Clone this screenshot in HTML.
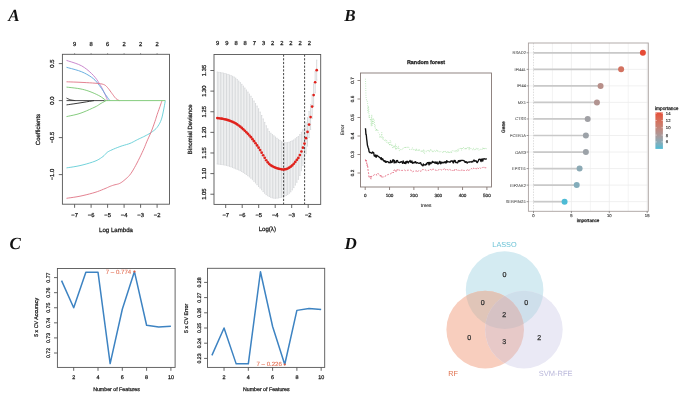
<!DOCTYPE html>
<html><head><meta charset="utf-8"><style>
html,body{margin:0;padding:0;background:#fff;}
svg{display:block;will-change:transform;filter:blur(0.4px);}
text{font-family:"Liberation Sans", sans-serif;text-rendering:geometricPrecision;}
.h{stroke:currentColor;stroke-width:0.26px;}
</style></head><body>
<svg width="685" height="415" viewBox="0 0 685 415">
<rect width="685" height="415" fill="#fff"/>
<text x="8.3" y="20.6" style="font-family:&quot;Liberation Serif&quot;,serif;font-weight:bold;font-style:italic" font-size="17" fill="#111">A</text>
<text x="344.2" y="20.6" style="font-family:&quot;Liberation Serif&quot;,serif;font-weight:bold;font-style:italic" font-size="17" fill="#111">B</text>
<text x="9.6" y="249.3" style="font-family:&quot;Liberation Serif&quot;,serif;font-weight:bold;font-style:italic" font-size="17" fill="#111">C</text>
<text x="344.4" y="248.8" style="font-family:&quot;Liberation Serif&quot;,serif;font-weight:bold;font-style:italic" font-size="17" fill="#111">D</text>
<polyline points="66.5,60.4 68.62,61.09 71.66,62.02 75.15,63.16 78.65,64.46 81.7,65.9 84.32,67.52 86.81,69.35 89.15,71.3 91.32,73.31 93.3,75.3 95.07,77.3 96.63,79.36 98.03,81.43 99.31,83.46 100.5,85.4 101.59,87.26 102.54,89.09 103.4,90.85 104.17,92.52 104.9,94.1 105.59,95.64 106.23,97.17 106.8,98.57 107.26,99.75 107.6,100.6" fill="none" stroke="#c47cc8" stroke-width="0.9" stroke-linejoin="round" />
<polyline points="66.5,67.3 68.62,67.88 71.66,68.67 75.15,69.62 78.65,70.68 81.7,71.8 84.32,72.99 86.81,74.28 89.15,75.65 91.32,77.1 93.3,78.6 95.06,80.19 96.6,81.88 97.99,83.62 99.27,85.35 100.5,87 101.65,88.6 102.69,90.17 103.66,91.71 104.58,93.2 105.5,94.6 106.47,96 107.48,97.4 108.42,98.71 109.23,99.81 109.8,100.6" fill="none" stroke="#5aa6dc" stroke-width="0.9" stroke-linejoin="round" />
<polyline points="66.5,81.8 68.31,81.86 70.86,81.94 73.84,82.05 76.99,82.17 80,82.3 83.01,82.45 86.21,82.62 89.4,82.8 92.4,82.99 95,83.2 97.17,83.39 99.04,83.57 100.67,83.77 102.1,84.03 103.4,84.4 104.49,84.85 105.33,85.36 106.04,85.96 106.72,86.66 107.5,87.5 108.38,88.53 109.3,89.73 110.22,91.03 111.13,92.31 112,93.5 112.84,94.63 113.67,95.75 114.47,96.83 115.25,97.79 116,98.6 116.76,99.23 117.53,99.72 118.25,100.09 118.86,100.38 119.3,100.6" fill="none" stroke="#e07484" stroke-width="0.9" stroke-linejoin="round" />
<polyline points="66.5,87.1 68.39,87.31 71.1,87.6 74.2,87.96 77.31,88.36 80,88.8 82.22,89.26 84.25,89.75 86.17,90.3 88.06,90.91 90,91.6 92.06,92.41 94.19,93.32 96.29,94.29 98.26,95.26 100,96.2 101.55,97.16 102.98,98.19 104.22,99.17 105.25,100 106,100.6" fill="none" stroke="#78c670" stroke-width="0.9" stroke-linejoin="round" />
<polyline points="66.5,98.1 67.03,98.35 67.78,98.7 68.66,99.1 69.59,99.49 70.5,99.8 71.47,100.03 72.56,100.22 73.62,100.38 74.55,100.51 75.2,100.6" fill="none" stroke="#222222" stroke-width="0.9" stroke-linejoin="round" />
<polyline points="66.5,104.9 68.33,104.63 70.9,104.26 73.92,103.82 77.05,103.35 80,102.9 82.99,102.42 86.24,101.89 89.38,101.37 92.09,100.92 94,100.6" fill="none" stroke="#222222" stroke-width="0.9" stroke-linejoin="round" />
<polyline points="66.5,116.6 68.31,116.22 70.86,115.7 73.84,115.06 76.99,114.3 80,113.4 83.06,112.27 86.37,110.91 89.65,109.47 92.62,108.11 95,107 96.62,106.19 97.67,105.57 98.41,105.07 99.1,104.57 100,104 101.23,103.29 102.62,102.51 103.98,101.73 105.17,101.07 106,100.6" fill="none" stroke="#78c670" stroke-width="0.9" stroke-linejoin="round" />
<polyline points="66.5,167.9 68.31,167.62 70.86,167.25 73.84,166.78 76.99,166.23 80,165.6 83.02,164.86 86.23,164.01 89.43,163.08 92.42,162.13 95,161.2 97.11,160.27 98.9,159.31 100.42,158.34 101.77,157.4 103,156.5 104.04,155.63 104.84,154.79 105.52,153.97 106.2,153.21 107,152.5 107.87,151.89 108.74,151.37 109.66,150.88 110.73,150.38 112,149.8 113.54,149.12 115.31,148.39 117.21,147.63 119.14,146.88 121,146.2 122.82,145.61 124.66,145.08 126.49,144.56 128.28,144.02 130,143.4 131.63,142.68 133.19,141.9 134.71,141.08 136.21,140.27 137.7,139.5 139.2,138.78 140.69,138.08 142.16,137.4 143.6,136.71 145,136 146.37,135.29 147.71,134.59 149.01,133.87 150.28,133.11 151.5,132.3 152.68,131.46 153.83,130.59 154.94,129.67 156,128.66 157,127.5 157.95,126.2 158.86,124.77 159.71,123.24 160.5,121.61 161.2,119.9 161.81,118.06 162.32,116.08 162.78,114.03 163.19,111.98 163.6,110 164.01,107.94 164.41,105.75 164.78,103.66 165.08,101.87 165.3,100.6" fill="none" stroke="#62cdd6" stroke-width="0.9" stroke-linejoin="round" />
<polyline points="66.5,198.3 68.31,198.04 70.86,197.69 73.84,197.26 76.99,196.76 80,196.2 82.98,195.55 86.13,194.8 89.29,194 92.3,193.19 95,192.4 97.4,191.61 99.6,190.8 101.6,190 103.4,189.26 105,188.6 106.34,188.04 107.41,187.57 108.31,187.15 109.14,186.76 110,186.4 110.84,186.07 111.59,185.79 112.33,185.54 113.11,185.28 114,185 115.04,184.73 116.18,184.48 117.37,184.21 118.56,183.86 119.7,183.4 120.78,182.81 121.83,182.13 122.87,181.37 123.92,180.52 125,179.6 126.1,178.65 127.22,177.66 128.36,176.58 129.52,175.31 130.7,173.8 131.92,171.99 133.18,169.93 134.46,167.7 135.74,165.36 137,163 138.28,160.52 139.6,157.88 140.9,155.21 142.12,152.64 143.2,150.3 144.1,148.27 144.86,146.45 145.54,144.75 146.23,143.03 147,141.2 147.87,139.22 148.8,137.18 149.74,135.1 150.65,133.03 151.5,131 152.28,128.98 153.03,126.95 153.74,124.95 154.4,123.05 155,121.3 155.51,119.76 155.94,118.39 156.34,117.1 156.74,115.8 157.2,114.4 157.73,112.85 158.32,111.22 158.91,109.56 159.48,107.97 160,106.5 160.48,105.1 160.95,103.71 161.38,102.44 161.74,101.37 162,100.6" fill="none" stroke="#e07484" stroke-width="0.9" stroke-linejoin="round" />
<line x1="66.5" y1="100.6" x2="104.5" y2="100.6" stroke="#333" stroke-width="0.9" />
<line x1="104.5" y1="100.6" x2="165.3" y2="100.6" stroke="#78c670" stroke-width="0.9" />
<rect x="62.4" y="54.3" width="107.1" height="149.9" fill="none" stroke="#555" stroke-width="0.9" />
<line x1="74.6" y1="204.2" x2="74.6" y2="207.8" stroke="#555" stroke-width="0.9" />
<text class="h" x="74.6" y="215.8" font-size="5.8" text-anchor="middle" dominant-baseline="central" fill="#222" color="#222" >−7</text>
<line x1="91.1" y1="204.2" x2="91.1" y2="207.8" stroke="#555" stroke-width="0.9" />
<text class="h" x="91.1" y="215.8" font-size="5.8" text-anchor="middle" dominant-baseline="central" fill="#222" color="#222" >−6</text>
<line x1="107.6" y1="204.2" x2="107.6" y2="207.8" stroke="#555" stroke-width="0.9" />
<text class="h" x="107.6" y="215.8" font-size="5.8" text-anchor="middle" dominant-baseline="central" fill="#222" color="#222" >−5</text>
<line x1="124.1" y1="204.2" x2="124.1" y2="207.8" stroke="#555" stroke-width="0.9" />
<text class="h" x="124.1" y="215.8" font-size="5.8" text-anchor="middle" dominant-baseline="central" fill="#222" color="#222" >−4</text>
<line x1="140.6" y1="204.2" x2="140.6" y2="207.8" stroke="#555" stroke-width="0.9" />
<text class="h" x="140.6" y="215.8" font-size="5.8" text-anchor="middle" dominant-baseline="central" fill="#222" color="#222" >−3</text>
<line x1="157.1" y1="204.2" x2="157.1" y2="207.8" stroke="#555" stroke-width="0.9" />
<text class="h" x="157.1" y="215.8" font-size="5.8" text-anchor="middle" dominant-baseline="central" fill="#222" color="#222" >−2</text>
<line x1="58.8" y1="174.6" x2="62.4" y2="174.6" stroke="#555" stroke-width="0.9" />
<text class="h" x="53" y="174.6" font-size="5.8" text-anchor="middle" dominant-baseline="central" fill="#222" color="#222" transform="rotate(-90 53 174.6)" >−1.0</text>
<line x1="58.8" y1="137.6" x2="62.4" y2="137.6" stroke="#555" stroke-width="0.9" />
<text class="h" x="53" y="137.6" font-size="5.8" text-anchor="middle" dominant-baseline="central" fill="#222" color="#222" transform="rotate(-90 53 137.6)" >−0.5</text>
<line x1="58.8" y1="100.6" x2="62.4" y2="100.6" stroke="#555" stroke-width="0.9" />
<text class="h" x="53" y="100.6" font-size="5.8" text-anchor="middle" dominant-baseline="central" fill="#222" color="#222" transform="rotate(-90 53 100.6)" >0.0</text>
<line x1="58.8" y1="63.6" x2="62.4" y2="63.6" stroke="#555" stroke-width="0.9" />
<text class="h" x="53" y="63.6" font-size="5.8" text-anchor="middle" dominant-baseline="central" fill="#222" color="#222" transform="rotate(-90 53 63.6)" >0.5</text>
<line x1="74.6" y1="53.1" x2="74.6" y2="54.3" stroke="#555" stroke-width="0.6" />
<text class="h" x="74.6" y="44.6" font-size="5.8" text-anchor="middle" dominant-baseline="central" fill="#222" color="#222" >9</text>
<line x1="91.1" y1="53.1" x2="91.1" y2="54.3" stroke="#555" stroke-width="0.6" />
<text class="h" x="91.1" y="44.6" font-size="5.8" text-anchor="middle" dominant-baseline="central" fill="#222" color="#222" >8</text>
<line x1="107.6" y1="53.1" x2="107.6" y2="54.3" stroke="#555" stroke-width="0.6" />
<text class="h" x="107.6" y="44.6" font-size="5.8" text-anchor="middle" dominant-baseline="central" fill="#222" color="#222" >6</text>
<line x1="124.1" y1="53.1" x2="124.1" y2="54.3" stroke="#555" stroke-width="0.6" />
<text class="h" x="124.1" y="44.6" font-size="5.8" text-anchor="middle" dominant-baseline="central" fill="#222" color="#222" >2</text>
<line x1="140.6" y1="53.1" x2="140.6" y2="54.3" stroke="#555" stroke-width="0.6" />
<text class="h" x="140.6" y="44.6" font-size="5.8" text-anchor="middle" dominant-baseline="central" fill="#222" color="#222" >2</text>
<line x1="157.1" y1="53.1" x2="157.1" y2="54.3" stroke="#555" stroke-width="0.6" />
<text class="h" x="157.1" y="44.6" font-size="5.8" text-anchor="middle" dominant-baseline="central" fill="#222" color="#222" >2</text>
<text class="h" x="39.4" y="129.5" font-size="6.0" text-anchor="middle" dominant-baseline="central" fill="#222" color="#222" transform="rotate(-90 39.4 129.5)" >Coefficients</text>
<text class="h" x="116" y="230.4" font-size="6.1" text-anchor="middle" dominant-baseline="central" fill="#222" color="#222" >Log Lambda</text>
<path d="M217.31 72.06V164.04M216.72 72.06h1.2M216.72 164.04h1.2M218.84 72.31V164.21M218.24 72.31h1.2M218.24 164.21h1.2M220.37 72.57V164.38M219.77 72.57h1.2M219.77 164.38h1.2M221.9 72.85V164.57M221.3 72.85h1.2M221.3 164.57h1.2M223.43 73.16V164.8M222.83 73.16h1.2M222.83 164.8h1.2M224.96 73.52V165.08M224.36 73.52h1.2M224.36 165.08h1.2M226.49 73.96V165.43M225.89 73.96h1.2M225.89 165.43h1.2M228.02 74.46V165.85M227.42 74.46h1.2M227.42 165.85h1.2M229.55 75.02V166.32M228.95 75.02h1.2M228.95 166.32h1.2M231.08 75.63V166.85M230.48 75.63h1.2M230.48 166.85h1.2M232.6 76.32V167.45M232 76.32h1.2M232 167.45h1.2M234.13 77.09V168.14M233.53 77.09h1.2M233.53 168.14h1.2M235.66 78.15V168.77M235.06 78.15h1.2M235.06 168.77h1.2M237.19 79.54V169.29M236.59 79.54h1.2M236.59 169.29h1.2M238.72 81.06V169.93M238.12 81.06h1.2M238.12 169.93h1.2M240.25 82.67V170.67M239.65 82.67h1.2M239.65 170.67h1.2M241.78 84.37V171.49M241.18 84.37h1.2M241.18 171.49h1.2M243.31 86.15V172.41M242.71 86.15h1.2M242.71 172.41h1.2M244.84 88.05V173.43M244.24 88.05h1.2M244.24 173.43h1.2M246.37 90.03V174.53M245.77 90.03h1.2M245.77 174.53h1.2M247.89 92.06V175.69M247.29 92.06h1.2M247.29 175.69h1.2M249.42 94.12V176.88M248.82 94.12h1.2M248.82 176.88h1.2M250.95 96.25V178.18M250.35 96.25h1.2M250.35 178.18h1.2M252.48 98.59V179.7M251.88 98.59h1.2M251.88 179.7h1.2M254.01 101.03V181.32M253.41 101.03h1.2M253.41 181.32h1.2M255.54 103.49V182.97M254.94 103.49h1.2M254.94 182.97h1.2M257.07 106.05V184.71M256.47 106.05h1.2M256.47 184.71h1.2M258.6 108.82V186.5M258 108.82h1.2M258 186.5h1.2M260.13 112.1V188.1M259.53 112.1h1.2M259.53 188.1h1.2M261.66 115.47V189.8M261.06 115.47h1.2M261.06 189.8h1.2M263.19 118.93V191.6M262.58 118.93h1.2M262.58 191.6h1.2M264.71 122.42V193.23M264.11 122.42h1.2M264.11 193.23h1.2M266.24 125.81V194.65M265.64 125.81h1.2M265.64 194.65h1.2M267.77 128.85V195.7M267.17 128.85h1.2M267.17 195.7h1.2M269.3 131.53V196.47M268.7 131.53h1.2M268.7 196.47h1.2M270.83 133.23V197.32M270.23 133.23h1.2M270.23 197.32h1.2M272.36 134.6V197.84M271.76 134.6h1.2M271.76 197.84h1.2M273.89 135.82V198.21M273.29 135.82h1.2M273.29 198.21h1.2M275.42 137.04V198.31M274.82 137.04h1.2M274.82 198.31h1.2M276.95 138.27V198.18M276.35 138.27h1.2M276.35 198.18h1.2M278.48 139.39V197.94M277.88 139.39h1.2M277.88 197.94h1.2M280 140.41V197.61M279.4 140.41h1.2M279.4 197.61h1.2M281.53 141.4V197.24M280.93 141.4h1.2M280.93 197.24h1.2M283.06 142.25V196.73M282.46 142.25h1.2M282.46 196.73h1.2M284.59 142.67V196.15M283.99 142.67h1.2M283.99 196.15h1.2M286.12 142.75V195.42M285.52 142.75h1.2M285.52 195.42h1.2M287.65 142.6V194.47M287.05 142.6h1.2M287.05 194.47h1.2M289.18 142.19V193.25M288.58 142.19h1.2M288.58 193.25h1.2M290.71 141.55V191.81M290.11 141.55h1.2M290.11 191.81h1.2M292.24 140.87V189.91M291.64 140.87h1.2M291.64 189.91h1.2M293.76 139.98V187.6M293.16 139.98h1.2M293.16 187.6h1.2M295.29 138.84V185.05M294.69 138.84h1.2M294.69 185.05h1.2M296.82 137.56V182.28M296.22 137.56h1.2M296.22 182.28h1.2M298.35 136.49V179.3M297.75 136.49h1.2M297.75 179.3h1.2M299.88 134.6V175.46M299.28 134.6h1.2M299.28 175.46h1.2M301.41 132.32V170.63M300.81 132.32h1.2M300.81 170.63h1.2M302.94 129.82V165.58M302.34 129.82h1.2M302.34 165.58h1.2M304.47 126.98V160.2M303.87 126.98h1.2M303.87 160.2h1.2M306 122.82V153.6M305.4 122.82h1.2M305.4 153.6h1.2M307.53 117.71V146.05M306.93 117.71h1.2M306.93 146.05h1.2M309.06 111.56V137.52M308.45 111.56h1.2M308.45 137.52h1.2M310.58 104.66V129.43M309.98 104.66h1.2M309.98 129.43h1.2M312.11 94.82V118.39M311.51 94.82h1.2M311.51 118.39h1.2M313.64 83.87V106.25M313.04 83.87h1.2M313.04 106.25h1.2M315.17 71.64V92.84M314.57 71.64h1.2M314.57 92.84h1.2M316.7 60.2V80.2M316.1 60.2h1.2M316.1 80.2h1.2" stroke="#d8dadc" stroke-width="1.0" fill="none"/>
<line x1="283.6" y1="54.5" x2="283.6" y2="204.4" stroke="#333" stroke-width="0.9" stroke-dasharray="2.2,1.5"/>
<line x1="304.6" y1="54.5" x2="304.6" y2="204.4" stroke="#333" stroke-width="0.9" stroke-dasharray="2.2,1.5"/>
<g fill="#e0221c"><circle cx="217.31" cy="118.05" r="1.35"/><circle cx="218.84" cy="118.26" r="1.35"/><circle cx="220.37" cy="118.48" r="1.35"/><circle cx="221.9" cy="118.71" r="1.35"/><circle cx="223.43" cy="118.98" r="1.35"/><circle cx="224.96" cy="119.3" r="1.35"/><circle cx="226.49" cy="119.7" r="1.35"/><circle cx="228.02" cy="120.16" r="1.35"/><circle cx="229.55" cy="120.67" r="1.35"/><circle cx="231.08" cy="121.24" r="1.35"/><circle cx="232.6" cy="121.88" r="1.35"/><circle cx="234.13" cy="122.62" r="1.35"/><circle cx="235.66" cy="123.46" r="1.35"/><circle cx="237.19" cy="124.42" r="1.35"/><circle cx="238.72" cy="125.5" r="1.35"/><circle cx="240.25" cy="126.67" r="1.35"/><circle cx="241.78" cy="127.93" r="1.35"/><circle cx="243.31" cy="129.28" r="1.35"/><circle cx="244.84" cy="130.74" r="1.35"/><circle cx="246.37" cy="132.28" r="1.35"/><circle cx="247.89" cy="133.87" r="1.35"/><circle cx="249.42" cy="135.5" r="1.35"/><circle cx="250.95" cy="137.21" r="1.35"/><circle cx="252.48" cy="139.15" r="1.35"/><circle cx="254.01" cy="141.17" r="1.35"/><circle cx="255.54" cy="143.23" r="1.35"/><circle cx="257.07" cy="145.38" r="1.35"/><circle cx="258.6" cy="147.66" r="1.35"/><circle cx="260.13" cy="150.1" r="1.35"/><circle cx="261.66" cy="152.64" r="1.35"/><circle cx="263.19" cy="155.26" r="1.35"/><circle cx="264.71" cy="157.82" r="1.35"/><circle cx="266.24" cy="160.23" r="1.35"/><circle cx="267.77" cy="162.28" r="1.35"/><circle cx="269.3" cy="164" r="1.35"/><circle cx="270.83" cy="165.28" r="1.35"/><circle cx="272.36" cy="166.22" r="1.35"/><circle cx="273.89" cy="167.01" r="1.35"/><circle cx="275.42" cy="167.68" r="1.35"/><circle cx="276.95" cy="168.23" r="1.35"/><circle cx="278.48" cy="168.66" r="1.35"/><circle cx="280" cy="169.01" r="1.35"/><circle cx="281.53" cy="169.32" r="1.35"/><circle cx="283.06" cy="169.49" r="1.35"/><circle cx="284.59" cy="169.41" r="1.35"/><circle cx="286.12" cy="169.09" r="1.35"/><circle cx="287.65" cy="168.53" r="1.35"/><circle cx="289.18" cy="167.72" r="1.35"/><circle cx="290.71" cy="166.68" r="1.35"/><circle cx="292.24" cy="165.39" r="1.35"/><circle cx="293.76" cy="163.79" r="1.35"/><circle cx="295.29" cy="161.94" r="1.35"/><circle cx="296.82" cy="159.92" r="1.35"/><circle cx="298.35" cy="157.89" r="1.35"/><circle cx="299.88" cy="155.03" r="1.35"/><circle cx="301.41" cy="151.48" r="1.35"/><circle cx="302.94" cy="147.7" r="1.35"/><circle cx="304.47" cy="143.59" r="1.35"/><circle cx="306" cy="138.21" r="1.35"/><circle cx="307.53" cy="131.88" r="1.35"/><circle cx="309.06" cy="124.54" r="1.35"/><circle cx="310.58" cy="117.04" r="1.35"/><circle cx="312.11" cy="106.61" r="1.35"/><circle cx="313.64" cy="95.06" r="1.35"/><circle cx="315.17" cy="82.24" r="1.35"/><circle cx="316.7" cy="70.2" r="1.35"/></g>
<rect x="214" y="54.5" width="106.7" height="149.9" fill="none" stroke="#555" stroke-width="0.9" />
<line x1="225.7" y1="204.4" x2="225.7" y2="208" stroke="#555" stroke-width="0.9" />
<text class="h" x="225.7" y="215.8" font-size="5.8" text-anchor="middle" dominant-baseline="central" fill="#222" color="#222" >−7</text>
<line x1="242.2" y1="204.4" x2="242.2" y2="208" stroke="#555" stroke-width="0.9" />
<text class="h" x="242.2" y="215.8" font-size="5.8" text-anchor="middle" dominant-baseline="central" fill="#222" color="#222" >−6</text>
<line x1="258.7" y1="204.4" x2="258.7" y2="208" stroke="#555" stroke-width="0.9" />
<text class="h" x="258.7" y="215.8" font-size="5.8" text-anchor="middle" dominant-baseline="central" fill="#222" color="#222" >−5</text>
<line x1="275.2" y1="204.4" x2="275.2" y2="208" stroke="#555" stroke-width="0.9" />
<text class="h" x="275.2" y="215.8" font-size="5.8" text-anchor="middle" dominant-baseline="central" fill="#222" color="#222" >−4</text>
<line x1="291.7" y1="204.4" x2="291.7" y2="208" stroke="#555" stroke-width="0.9" />
<text class="h" x="291.7" y="215.8" font-size="5.8" text-anchor="middle" dominant-baseline="central" fill="#222" color="#222" >−3</text>
<line x1="308.2" y1="204.4" x2="308.2" y2="208" stroke="#555" stroke-width="0.9" />
<text class="h" x="308.2" y="215.8" font-size="5.8" text-anchor="middle" dominant-baseline="central" fill="#222" color="#222" >−2</text>
<line x1="210.4" y1="194.22" x2="214" y2="194.22" stroke="#555" stroke-width="0.9" />
<text class="h" x="204.7" y="194.22" font-size="5.8" text-anchor="middle" dominant-baseline="central" fill="#222" color="#222" transform="rotate(-90 204.7 194.22)" >1.05</text>
<line x1="210.4" y1="173.6" x2="214" y2="173.6" stroke="#555" stroke-width="0.9" />
<text class="h" x="204.7" y="173.6" font-size="5.8" text-anchor="middle" dominant-baseline="central" fill="#222" color="#222" transform="rotate(-90 204.7 173.6)" >1.10</text>
<line x1="210.4" y1="152.98" x2="214" y2="152.98" stroke="#555" stroke-width="0.9" />
<text class="h" x="204.7" y="152.98" font-size="5.8" text-anchor="middle" dominant-baseline="central" fill="#222" color="#222" transform="rotate(-90 204.7 152.98)" >1.15</text>
<line x1="210.4" y1="132.36" x2="214" y2="132.36" stroke="#555" stroke-width="0.9" />
<text class="h" x="204.7" y="132.36" font-size="5.8" text-anchor="middle" dominant-baseline="central" fill="#222" color="#222" transform="rotate(-90 204.7 132.36)" >1.20</text>
<line x1="210.4" y1="111.74" x2="214" y2="111.74" stroke="#555" stroke-width="0.9" />
<text class="h" x="204.7" y="111.74" font-size="5.8" text-anchor="middle" dominant-baseline="central" fill="#222" color="#222" transform="rotate(-90 204.7 111.74)" >1.25</text>
<line x1="210.4" y1="91.12" x2="214" y2="91.12" stroke="#555" stroke-width="0.9" />
<text class="h" x="204.7" y="91.12" font-size="5.8" text-anchor="middle" dominant-baseline="central" fill="#222" color="#222" transform="rotate(-90 204.7 91.12)" >1.30</text>
<line x1="210.4" y1="70.5" x2="214" y2="70.5" stroke="#555" stroke-width="0.9" />
<text class="h" x="204.7" y="70.5" font-size="5.8" text-anchor="middle" dominant-baseline="central" fill="#222" color="#222" transform="rotate(-90 204.7 70.5)" >1.35</text>
<text class="h" x="217.7" y="44.4" font-size="5.8" text-anchor="middle" dominant-baseline="central" fill="#222" color="#222" >9</text>
<text class="h" x="226.86" y="44.4" font-size="5.8" text-anchor="middle" dominant-baseline="central" fill="#222" color="#222" >9</text>
<text class="h" x="236.02" y="44.4" font-size="5.8" text-anchor="middle" dominant-baseline="central" fill="#222" color="#222" >8</text>
<text class="h" x="245.18" y="44.4" font-size="5.8" text-anchor="middle" dominant-baseline="central" fill="#222" color="#222" >8</text>
<text class="h" x="254.34" y="44.4" font-size="5.8" text-anchor="middle" dominant-baseline="central" fill="#222" color="#222" >7</text>
<text class="h" x="263.5" y="44.4" font-size="5.8" text-anchor="middle" dominant-baseline="central" fill="#222" color="#222" >3</text>
<text class="h" x="272.66" y="44.4" font-size="5.8" text-anchor="middle" dominant-baseline="central" fill="#222" color="#222" >2</text>
<text class="h" x="281.82" y="44.4" font-size="5.8" text-anchor="middle" dominant-baseline="central" fill="#222" color="#222" >2</text>
<text class="h" x="290.98" y="44.4" font-size="5.8" text-anchor="middle" dominant-baseline="central" fill="#222" color="#222" >2</text>
<text class="h" x="300.14" y="44.4" font-size="5.8" text-anchor="middle" dominant-baseline="central" fill="#222" color="#222" >2</text>
<text class="h" x="309.3" y="44.4" font-size="5.8" text-anchor="middle" dominant-baseline="central" fill="#222" color="#222" >2</text>
<text class="h" x="191.2" y="129.3" font-size="6.0" text-anchor="middle" dominant-baseline="central" fill="#222" color="#222" transform="rotate(-90 191.2 129.3)" >Binomial Deviance</text>
<text class="h" x="267.3" y="229.4" font-size="6.1" text-anchor="middle" dominant-baseline="central" fill="#222" color="#222" >Log(λ)</text>
<polyline points="365.44,78.76 365.69,85.82 365.93,95.25 366.17,98.65 366.42,99.2 366.66,100.58 366.9,100.72 367.15,100.45 367.39,102.15 367.63,103.85 367.88,111.63 368.12,112.52 368.36,106.17 368.61,107.06 368.85,110.8 369.09,117.81 369.34,115.1 369.58,117.11 369.82,118 370.07,118.89 370.31,119.78 370.55,120.67 370.8,119.13 371.04,122.23 371.28,126.26 371.53,118.74 371.77,114.58 372.02,125.27 372.26,125.75 372.5,122.62 372.75,119.4 372.99,123.35 373.23,123.83 373.48,118.48 373.72,118.96 373.96,119.45 374.21,119.94 374.45,120.42 374.69,126.61 374.94,127.1 375.18,125.44 375.42,130.06 375.67,130.42 375.91,130.74 376.15,131.07 376.4,128.53 376.64,128.85 376.88,131.1 377.13,129.48 377.37,129.81 377.61,130.14 377.86,130.47 378.1,130.79 378.34,132.58 378.59,132.9 378.83,133.23 379.07,133.56 379.32,133.89 379.56,134.21 379.8,137.62 380.05,137.95 380.29,136.43 380.53,136.75 380.78,137.08 381.02,137.41 381.26,137.73 381.51,135.64 381.75,132.53 381.99,135.85 382.24,136.08 382.48,138.43 382.72,139.12 382.97,139.33 383.21,137.08 383.45,139.26 383.7,139.07 383.94,139.16 384.19,139.38 384.43,140.41 384.67,140.75 384.92,140.43 385.16,139.45 385.4,139.64 385.65,141.64 385.89,141.83 386.13,142.01 386.38,142.19 386.62,140.13 386.86,142.08 387.11,141.94 387.35,142.12 387.59,142.4 387.84,143.19 388.08,143.37 388.32,143.55 388.57,141.83 388.81,142.9 389.05,143.08 389.3,143.72 389.54,143.91 389.78,145.83 390.03,140.13 390.27,140.34 390.51,140.56 390.76,140.77 391,145.43 391.24,145.64 391.49,145.86 391.73,145.15 391.97,144.22 392.22,144.44 392.46,147.74 392.7,147.96 392.95,148.17 393.19,148.36 393.43,145.67 393.68,145.85 393.92,147.14 394.16,147.5 394.41,146.28 394.65,147.59 394.89,147.77 395.14,147.96 395.38,143.71 395.62,143.9 395.87,150.05 396.11,147.82 396.36,148.83 396.6,146.63 396.84,147.33 397.09,147.35 397.33,147.37 397.57,147.38 397.82,147.4 398.06,149.17 398.3,146.16 398.55,146.18 398.79,147.91 399.03,148.52 399.28,150.74 399.52,150.75 399.76,150.23 400.01,149.85 400.25,149.87 400.49,149 400.74,149.35 400.98,149.71 401.22,149.55 401.47,149.38 401.71,149.66 401.95,149.92 402.2,149.75 402.44,148.87 402.68,149.01 402.93,148.84 403.17,147.83 403.41,147.66 403.66,147.49 403.9,147.32 404.14,147.65 404.39,147.21 404.63,147.85 404.87,147.79 405.12,147.1 405.36,147.04 405.6,148.34 405.85,147.25 406.09,147.23 406.33,147.28 406.58,147.61 406.82,147.66 407.06,147.71 407.31,147.76 407.55,147.81 407.79,146.89 408.04,146.94 408.28,147.84 408.53,147.36 408.77,147.41 409.01,147.46 409.26,147.51 409.5,149.47 409.74,149.52 409.99,149.57 410.23,149.66 410.47,149.75 410.72,149.84 410.96,149.93 411.2,149.63 411.45,148.6 411.69,148.5 411.93,148.6 412.18,148.69 412.42,147.64 412.66,147.73 412.91,149.16 413.15,149.25 413.39,150.26 413.64,150.35 413.88,150.45 414.12,149.47 414.37,149.47 414.61,149.89 414.85,149.98 415.1,150.05 415.34,150.09 415.58,150.92 415.83,150.96 416.07,148.33 416.31,148.37 416.56,148.41 416.8,151.01 417.04,149.89 417.29,149.93 417.53,149.96 417.77,150 418.02,150.01 418.26,150.43 418.5,151.17 418.75,151.21 418.99,149.45 419.23,150.74 419.48,150.21 419.72,150.25 419.96,150.45 420.21,150.49 420.45,150.53 420.7,150.57 420.94,151.37 421.18,150.1 421.43,150.48 421.67,151.23 421.91,151.26 422.16,150.37 422.4,150.41 422.64,150.45 422.89,152.13 423.13,150.89 423.37,149.4 423.62,149.44 423.86,153.51 424.1,153.54 424.35,153.58 424.59,153.62 424.83,150.79 425.08,151.06 425.32,151.04 425.56,151.02 425.81,151 426.05,150.98 426.29,151.84 426.54,151.82 426.78,151.8 427.02,151.78 427.27,150.52 427.51,151.04 427.75,151.29 428,151.14 428.24,150.48 428.48,150.46 428.73,151.93 428.97,151.6 429.21,151.58 429.46,151.56 429.7,152.07 429.94,152.05 430.19,149.11 430.43,149.09 430.67,149.07 430.92,150.92 431.16,150.9 431.4,150.88 431.65,150.86 431.89,150.84 432.13,150.38 432.38,151.88 432.62,151.86 432.87,150.67 433.11,151.73 433.35,151.71 433.6,150.45 433.84,150.43 434.08,150.41 434.33,150.73 434.57,150.5 434.81,150.48 435.06,151.58 435.3,151.62 435.54,150.78 435.79,150.82 436.03,150.86 436.27,149.98 436.52,150.02 436.76,150.96 437,151.49 437.25,150.5 437.49,151.73 437.73,151.77 437.98,150.8 438.22,151.08 438.46,151.12 438.71,151.15 438.95,151.92 439.19,151.96 439.44,151.78 439.68,151.82 439.92,151.33 440.17,151.37 440.41,151.41 440.65,151.45 440.9,151.92 441.14,151.7 441.38,151.73 441.63,151.77 441.87,152.32 442.11,152.36 442.36,152.4 442.6,152.44 442.84,152.48 443.09,151.19 443.33,151.23 443.57,152.75 443.82,151.89 444.06,151.44 444.31,151.48 444.55,151.51 444.79,151.55 445.04,151.58 445.28,151.56 445.52,150.97 445.77,152.73 446.01,152.71 446.25,152.74 446.5,151.95 446.74,151.93 446.98,152.07 447.23,152.52 447.47,152.5 447.71,151.12 447.96,151.1 448.2,151.08 448.44,153.17 448.69,153.15 448.93,152.27 449.17,152.25 449.42,151.67 449.66,152.6 449.9,152.58 450.15,152.01 450.39,151.99 450.63,151.97 450.88,152.57 451.12,151.14 451.36,151.77 451.61,152.77 451.85,150.95 452.09,150.93 452.34,150.72 452.58,150.7 452.82,151.03 453.07,151.01 453.31,150.99 453.55,150.98 453.8,150.8 454.04,150.81 454.28,151.59 454.53,151.77 454.77,151.75 455.01,151.72 455.26,150.6 455.5,150.49 455.74,150.38 455.99,152.13 456.23,152.02 456.48,151.91 456.72,150.27 456.96,150.1 457.21,149.99 457.45,149.88 457.69,151.41 457.94,149.16 458.18,149.05 458.42,150.71 458.67,150.92 458.91,148.91 459.15,148.8 459.4,148.69 459.64,148.58 459.88,148.47 460.13,148.77 460.37,148.45 460.61,148.33 460.86,148.29 461.1,149.51 461.34,148.17 461.59,150.18 461.83,150.14 462.07,150.1 462.32,150.06 462.56,147.33 462.8,147.29 463.05,147.61 463.29,147.57 463.53,147.53 463.78,149.21 464.02,149.17 464.26,148.69 464.51,148.65 464.75,148.38 464.99,149.02 465.24,149.04 465.48,149.06 465.72,147.66 465.97,149.74 466.21,149.76 466.45,148.67 466.7,148.52 466.94,148.54 467.18,147.29 467.43,147.79 467.67,147.81 467.91,148.57 468.16,148.15 468.4,147.81 468.64,147.83 468.89,149.84 469.13,149.86 469.38,146.96 469.62,148.67 469.86,148.69 470.11,148.71 470.35,148.73 470.59,148.75 470.84,147.87 471.08,149.09 471.32,149.11 471.57,149.13 471.81,149.46 472.05,149.73 472.3,149.75 472.54,149.77 472.78,149.11 473.03,149.13 473.27,149.15 473.51,148.09 473.76,148.11 474,148.13 474.24,150.23 474.49,150.25 474.73,150.27 474.97,150.29 475.22,150.28 475.46,148.05 475.7,148.03 475.95,148.01 476.19,148 476.43,149.44 476.68,149.42 476.92,149.41 477.16,149.39 477.41,148.07 477.65,148.05 477.89,148.04 478.14,148.97 478.38,148.96 478.62,148.94 478.87,150.2 479.11,150.18 479.35,149.36 479.6,149.35 479.84,149.33 480.08,149.31 480.33,149.3 480.57,149.28 480.81,149.26 481.06,149.25 481.3,148.61 481.55,149.4 481.79,149.39 482.03,149.37 482.28,149.35 482.52,147.78 482.76,147.76 483.01,149.37 483.25,149.3 483.49,147.67 483.74,148.5 483.98,148.48 484.22,148.55 484.47,148.77 484.71,149.55 484.95,148.2 485.2,148.19 485.44,147.85 485.68,147.83 485.93,147.81 486.17,148.92 486.41,148.91 486.66,148.39 486.9,148.38" fill="none" stroke="#86d482" stroke-width="0.9" stroke-linejoin="round" stroke-dasharray="0.8,1.5" opacity="0.65"/>
<polyline points="365.44,159.47 365.69,161.02 365.93,162.03 366.17,161.6 366.42,160.39 366.66,162.13 366.9,165.1 367.15,165.86 367.39,164.46 367.63,165.78 367.88,168.42 368.12,170.46 368.36,171.58 368.61,173.5 368.85,176.01 369.09,177.45 369.34,177.11 369.58,177.29 369.82,177.54 370.07,177.16 370.31,176.02 370.55,176.8 370.8,178.55 371.04,179.11 371.28,177.74 371.53,176.38 371.77,176.21 372.02,176.12 372.26,176.15 372.5,176.18 372.75,176.13 372.99,176.08 373.23,176.03 373.48,175.74 373.72,175.28 373.96,174.83 374.21,174.61 374.45,174.56 374.69,174.51 374.94,174.46 375.18,174.69 375.42,174.68 375.67,174.67 375.91,174.66 376.15,174.6 376.4,174.53 376.64,175.1 376.88,175.32 377.13,175.04 377.37,174.12 377.61,173.6 377.86,173.59 378.1,173.64 378.34,173.75 378.59,173.86 378.83,173.97 379.07,174.29 379.32,174.61 379.56,174.93 379.8,175.34 380.05,175.75 380.29,176.17 380.53,175.41 380.78,174.65 381.02,175.09 381.26,176.39 381.51,177.7 381.75,177.81 381.99,177.51 382.24,177.2 382.48,176.89 382.72,177 382.97,177.11 383.21,177.04 383.45,176.95 383.7,176.85 383.94,176.8 384.19,176.76 384.43,176.71 384.67,176.66 384.92,176.61 385.16,176.56 385.4,176.13 385.65,175.7 385.89,175.27 386.13,175.22 386.38,175.17 386.62,175.12 386.86,175.08 387.11,174.98 387.35,174.83 387.59,174.68 387.84,174.53 388.08,174.38 388.32,174.42 388.57,174.47 388.81,174.52 389.05,174.38 389.3,174.25 389.54,174.11 389.78,174.05 390.03,173.99 390.27,173.93 390.51,173.78 390.76,173.63 391,173.46 391.24,173.3 391.49,173.14 391.73,172.98 391.97,172.83 392.22,172.71 392.46,172.6 392.7,172.36 392.95,172.12 393.19,173 393.43,172.46 393.68,171.91 393.92,170.25 394.16,170.13 394.41,170.01 394.65,169.9 394.89,169.78 395.14,169.66 395.38,169.55 395.62,170.37 395.87,171.2 396.11,172.02 396.36,171.91 396.6,171.79 396.84,170.85 397.09,169.95 397.33,169.12 397.57,169.12 397.82,169.12 398.06,169.13 398.3,169.47 398.55,169.81 398.79,170.14 399.03,170.14 399.28,170.14 399.52,170.14 399.76,170.14 400.01,170.44 400.25,170.44 400.49,170.44 400.74,170.44 400.98,170.44 401.22,170.44 401.47,170.44 401.71,170.44 401.95,170.44 402.2,170.49 402.44,170.45 402.68,170.4 402.93,170.29 403.17,170.26 403.41,170.16 403.66,170.06 403.9,169.95 404.14,169.93 404.39,169.91 404.63,169.89 404.87,170 405.12,170.35 405.36,170.7 405.6,170.91 405.85,170.89 406.09,170.87 406.33,170.64 406.58,170.61 406.82,170.58 407.06,170.61 407.31,170.44 407.55,170.26 407.79,170.24 408.04,170.22 408.28,170.2 408.53,170.18 408.77,170.16 409.01,170.13 409.26,170.11 409.5,170.09 409.74,170.07 409.99,170.15 410.23,170.06 410.47,170.14 410.72,170.12 410.96,170.37 411.2,170.52 411.45,170.67 411.69,170.82 411.93,170.89 412.18,171.14 412.42,171.52 412.66,171.89 412.91,171.82 413.15,171.61 413.39,171.41 413.64,171.27 413.88,171.13 414.12,170.99 414.37,171.06 414.61,171.12 414.85,171.19 415.1,171.21 415.34,171.14 415.58,171.07 415.83,171 416.07,170.72 416.31,170.9 416.56,171.08 416.8,171.13 417.04,170.72 417.29,170.78 417.53,171.2 417.77,171.62 418.02,171.23 418.26,170.98 418.5,170.73 418.75,170.86 418.99,170.85 419.23,170.84 419.48,170.77 419.72,170.7 419.96,170.64 420.21,170.87 420.45,171.11 420.7,171.35 420.94,171.34 421.18,170.64 421.43,170.17 421.67,169.79 421.91,170.1 422.16,169.96 422.4,169.74 422.64,169.52 422.89,169.53 423.13,169.55 423.37,169.56 423.62,169.56 423.86,169.71 424.1,169.87 424.35,170.03 424.59,170.02 424.83,170.02 425.08,170.01 425.32,170 425.56,170 425.81,170.21 426.05,170.42 426.29,170.64 426.54,170.59 426.78,170.51 427.02,170.43 427.27,170.4 427.51,170.39 427.75,170.38 428,170.38 428.24,170.37 428.48,170.36 428.73,170.52 428.97,170.14 429.21,169.76 429.46,169.32 429.7,169.41 429.94,169.5 430.19,169.49 430.43,169.49 430.67,169.48 430.92,169.47 431.16,169.84 431.4,170.2 431.65,170.57 431.89,170.24 432.13,169.81 432.38,169.37 432.62,169.26 432.87,169.26 433.11,169.25 433.35,169.24 433.6,169.23 433.84,169.23 434.08,169.22 434.33,169.52 434.57,169.81 434.81,170.11 435.06,170.1 435.3,170.09 435.54,170.08 435.79,170.07 436.03,170.05 436.27,170.24 436.52,170.42 436.76,170.6 437,170.59 437.25,170.57 437.49,170.56 437.73,170.55 437.98,170.54 438.22,170.21 438.46,169.89 438.71,169.57 438.95,169.55 439.19,169.54 439.44,169.61 439.68,169.75 439.92,169.7 440.17,169.62 440.41,169.48 440.65,169.51 440.9,169.5 441.14,169.63 441.38,169.85 441.63,170.07 441.87,169.86 442.11,169.57 442.36,169.28 442.6,169.27 442.84,169.3 443.09,169.35 443.33,169.64 443.57,169.41 443.82,169.16 444.06,168.66 444.31,168.55 444.55,169 444.79,169.44 445.04,169.98 445.28,170 445.52,170.02 445.77,169.63 446.01,169.23 446.25,168.84 446.5,168.86 446.74,169.25 446.98,169.36 447.23,169.55 447.47,169.49 447.71,169.74 447.96,169.91 448.2,169.97 448.44,170.11 448.69,169.84 448.93,169.62 449.17,169.28 449.42,169.34 449.66,169.36 449.9,169.38 450.15,169.4 450.39,169.79 450.63,170.19 450.88,170.61 451.12,170.65 451.36,170.69 451.61,170.71 451.85,170.73 452.09,170.75 452.34,170.49 452.58,170.24 452.82,169.98 453.07,170.3 453.31,170.63 453.55,170.95 453.8,170.97 454.04,170.99 454.28,171.01 454.53,170.36 454.77,169.71 455.01,169.06 455.26,169.08 455.5,169.1 455.74,169.61 455.99,169.79 456.23,169.96 456.48,169.66 456.72,169.76 456.96,169.86 457.21,170.24 457.45,170.54 457.69,170.46 457.94,170.09 458.18,169.86 458.42,170.01 458.67,170.15 458.91,170.4 459.15,170.64 459.4,170.89 459.64,170.6 459.88,170.31 460.13,170.15 460.37,170.31 460.61,170.46 460.86,170.48 461.1,170.35 461.34,170.22 461.59,170.09 461.83,170.11 462.07,170.13 462.32,170.15 462.56,170.17 462.8,170.64 463.05,170.96 463.29,170.94 463.53,170.55 463.78,170.32 464.02,170.42 464.26,170.44 464.51,170.46 464.75,170.48 464.99,170.5 465.24,170.56 465.48,170.62 465.72,170.68 465.97,170.63 466.21,170.57 466.45,170.51 466.7,170.45 466.94,170.1 467.18,169.76 467.43,169.63 467.67,170.17 467.91,170.72 468.16,170.79 468.4,170.47 468.64,170.15 468.89,170.09 469.13,170.03 469.38,169.97 469.62,170.01 469.86,169.82 470.11,169.64 470.35,169.36 470.59,169.38 470.84,169.14 471.08,168.91 471.32,168.61 471.57,168.55 471.81,168.88 472.05,169.21 472.3,169.19 472.54,168.77 472.78,168.36 473.03,168.3 473.27,168.24 473.51,168.18 473.76,168.12 474,168.56 474.24,168.86 474.49,169.16 474.73,168.89 474.97,168.79 475.22,168.71 475.46,168.63 475.7,168.52 475.95,168.57 476.19,168.72 476.43,168.86 476.68,168.42 476.92,167.97 477.16,167.53 477.41,167.5 477.65,167.85 477.89,168.2 478.14,168.55 478.38,168.52 478.62,168.49 478.87,168.46 479.11,168.16 479.35,167.86 479.6,167.56 479.84,167.53 480.08,167.79 480.33,168.06 480.57,168.32 480.81,168.29 481.06,168 481.3,167.72 481.55,167.43 481.79,167.4 482.03,167.37 482.28,167.34 482.52,167.47 482.76,167.69 483.01,167.66 483.25,167.48 483.49,167.2 483.74,166.92 483.98,166.64 484.22,166.83 484.47,167.27 484.71,167.72 484.95,167.73 485.2,167.74 485.44,167.75 485.68,167.72 485.93,167.69 486.17,167.66 486.41,167.85 486.66,168.03 486.9,167.81" fill="none" stroke="#DF536B" stroke-width="0.85" stroke-linejoin="round" stroke-dasharray="1.8,1.4"/>
<polyline points="365.44,128.25 365.69,130.76 365.93,134.49 366.17,134.22 366.42,136.28 366.66,139 366.9,140.67 367.15,142.83 367.39,144.99 367.63,145.87 367.88,146.7 368.12,147.54 368.36,148.25 368.61,148.58 368.85,150.14 369.09,151.7 369.34,152.03 369.58,152.36 369.82,152.69 370.07,152.64 370.31,152.44 370.55,152.57 370.8,152.7 371.04,152.83 371.28,152.96 371.53,153.07 371.77,153.17 372.02,153.3 372.26,152.65 372.5,151.99 372.75,152.12 372.99,152.25 373.23,152.45 373.48,152.64 373.72,152.84 373.96,154.37 374.21,155.9 374.45,156.01 374.69,156.13 374.94,156.33 375.18,155.69 375.42,155.11 375.67,155 375.91,156.4 376.15,157.34 376.4,156.49 376.64,155.65 376.88,155.3 377.13,155.32 377.37,155.86 377.61,156.05 377.86,156.24 378.1,156.33 378.34,156.43 378.59,156.62 378.83,156.81 379.07,157 379.32,157.19 379.56,157.37 379.8,157.56 380.05,157.72 380.29,157.81 380.53,158.45 380.78,159.09 381.02,158.55 381.26,157.6 381.51,158.39 381.75,159.58 381.99,159.7 382.24,159.22 382.48,158.74 382.72,158.85 382.97,159.4 383.21,159.96 383.45,160.5 383.7,160.68 383.94,160.98 384.19,161.62 384.43,161.11 384.67,160.61 384.92,160.72 385.16,160.79 385.4,161.57 385.65,162.36 385.89,162.39 386.13,162.43 386.38,161.94 386.62,161.45 386.86,161.5 387.11,161.56 387.35,161.59 387.59,161.63 387.84,161.66 388.08,161.69 388.32,162.12 388.57,162.54 388.81,162.58 389.05,162.61 389.3,162.64 389.54,162.68 389.78,162.71 390.03,162.74 390.27,161.65 390.51,160.56 390.76,161.12 391,162.45 391.24,162.55 391.49,161.9 391.73,161.86 391.97,162.03 392.22,162.19 392.46,161.11 392.7,160.03 392.95,159.99 393.19,159.96 393.43,159.92 393.68,159.89 393.92,161.6 394.16,162.98 394.41,161.66 394.65,160.68 394.89,161.43 395.14,162.07 395.38,162.21 395.62,162.51 395.87,162.57 396.11,162.63 396.36,161.63 396.6,160.64 396.84,160.57 397.09,160.51 397.33,160.57 397.57,160.63 397.82,161.4 398.06,162.18 398.3,162.24 398.55,162.29 398.79,162.35 399.03,162.41 399.28,162.47 399.52,162.53 399.76,162.59 400.01,162.36 400.25,162.44 400.49,162.22 400.74,161.81 400.98,161.7 401.22,161.58 401.47,161.64 401.71,161.93 401.95,162.1 402.2,162.35 402.44,163.01 402.68,163.34 402.93,162.15 403.17,160.96 403.41,162.13 403.66,162.79 403.9,162.33 404.14,162.8 404.39,163.26 404.63,163.3 404.87,163.36 405.12,162.69 405.36,161.96 405.6,162.81 405.85,163.66 406.09,162.51 406.33,161.36 406.58,162.2 406.82,162.22 407.06,161.35 407.31,161.3 407.55,161.78 407.79,162.27 408.04,162.56 408.28,162.92 408.53,162.35 408.77,161.69 409.01,161.63 409.26,161.58 409.5,161.53 409.74,161.55 409.99,160.51 410.23,160.78 410.47,162.11 410.72,162.22 410.96,162.33 411.2,162.3 411.45,162.28 411.69,161.18 411.93,160.97 412.18,162.55 412.42,163.23 412.66,163.2 412.91,163.18 413.15,162.51 413.39,162.39 413.64,162.9 413.88,162.88 414.12,162.86 414.37,162.83 414.61,162.33 414.85,161.83 415.1,162.06 415.34,162.19 415.58,161.67 415.83,162.12 416.07,162.99 416.31,163.07 416.56,163.14 416.8,162.85 417.04,162.56 417.29,162.63 417.53,162.7 417.77,162.78 418.02,162.96 418.26,163.14 418.5,163.22 418.75,163.29 418.99,163.36 419.23,163.43 419.48,163.24 419.72,163.04 419.96,163.11 420.21,162.63 420.45,162.65 420.7,162.92 420.94,163.41 421.18,164.23 421.43,164.49 421.67,164.83 421.91,165.02 422.16,165.22 422.4,165.41 422.64,165.61 422.89,165.8 423.13,164.93 423.37,163.92 423.62,164.48 423.86,165.03 424.1,164.93 424.35,164.92 424.59,164.9 424.83,164.8 425.08,164.71 425.32,164.88 425.56,165.06 425.81,164.96 426.05,164.29 426.29,163.62 426.54,163.89 426.78,164.17 427.02,163.43 427.27,162.74 427.51,162.69 427.75,162.65 428,162.6 428.24,162.55 428.48,162.51 428.73,163.69 428.97,164.88 429.21,164.66 429.46,163.46 429.7,162.45 429.94,162.4 430.19,162.36 430.43,163.09 430.67,163.83 430.92,163.57 431.16,163.15 431.4,162.95 431.65,162.9 431.89,162.8 432.13,162.08 432.38,161.43 432.62,161.38 432.87,161.87 433.11,162.35 433.35,162.3 433.6,162.26 433.84,162.21 434.08,162.17 434.33,162.54 434.57,162.92 434.81,162.62 435.06,162.1 435.3,161.87 435.54,162.62 435.79,163.36 436.03,163.35 436.27,163.35 436.52,162.81 436.76,162.27 437,161.85 437.25,162.67 437.49,163.91 437.73,163.9 437.98,163.89 438.22,163.89 438.46,163.31 438.71,163 438.95,163.28 439.19,162.3 439.44,161.33 439.68,161.33 439.92,161.32 440.17,161.84 440.41,163.04 440.65,163.72 440.9,163.71 441.14,163.38 441.38,162.62 441.63,162.18 441.87,162.66 442.11,162.78 442.36,162.41 442.6,162.4 442.84,162.87 443.09,162.96 443.33,162.58 443.57,162.57 443.82,162.56 444.06,162.06 444.31,162.45 444.55,162.62 444.79,161.89 445.04,161.88 445.28,161.64 445.52,162.18 445.77,162.95 446.01,162.94 446.25,162.93 446.5,161.8 446.74,160.66 446.98,161.53 447.23,162.05 447.47,161.7 447.71,161.59 447.96,161.48 448.2,161.61 448.44,161.73 448.69,161.86 448.93,161.99 449.17,162.1 449.42,161.94 449.66,161.83 449.9,161.99 450.15,161.98 450.39,161.97 450.63,161.09 450.88,161.05 451.12,161.39 451.36,160.89 451.61,160.87 451.85,160.86 452.09,160.85 452.34,161.07 452.58,161.28 452.82,162.04 453.07,162.8 453.31,162.79 453.55,162.78 453.8,161.59 454.04,160.4 454.28,160.8 454.53,161.19 454.77,160.82 455.01,160.45 455.26,160.9 455.5,161.97 455.74,162.57 455.99,162.56 456.23,162.54 456.48,162.52 456.72,162.5 456.96,162.49 457.21,162.68 457.45,162.87 457.69,162.86 457.94,162.24 458.18,161.19 458.42,160.74 458.67,160.72 458.91,160.7 459.15,161.12 459.4,161.54 459.64,160.97 459.88,160.4 460.13,160.38 460.37,160.71 460.61,161.15 460.86,160.84 461.1,160.42 461.34,160.4 461.59,160.39 461.83,160.37 462.07,160.38 462.32,160.46 462.56,160.4 462.8,160.35 463.05,160.43 463.29,160.51 463.53,160.58 463.78,160.66 464.02,160.74 464.26,161.11 464.51,161.08 464.75,161.47 464.99,162.21 465.24,162.25 465.48,162.33 465.72,162 465.97,161.68 466.21,161.68 466.45,161.95 466.7,162.23 466.94,162.85 467.18,163.16 467.43,162.83 467.67,162.47 467.91,162.12 468.16,162.1 468.4,162.08 468.64,162.06 468.89,162.04 469.13,162.03 469.38,162.01 469.62,161.99 469.86,161.97 470.11,161.94 470.35,161.89 470.59,161.84 470.84,161.79 471.08,161.9 471.32,162.16 471.57,161.96 471.81,161.57 472.05,161.45 472.3,161.66 472.54,161.86 472.78,161.81 473.03,161.41 473.27,161.02 473.51,160.61 473.76,160.2 474,160.15 474.24,160.1 474.49,160.66 474.73,161.23 474.97,161.18 475.22,161.06 475.46,160.95 475.7,160.85 475.95,160.74 476.19,161.09 476.43,161.45 476.68,162.02 476.92,162.58 477.16,162.55 477.41,162.52 477.65,161.88 477.89,161.23 478.14,161.2 478.38,160.89 478.62,159.99 478.87,159.37 479.11,159.35 479.35,159.32 479.6,159.29 479.84,159.26 480.08,159.22 480.33,159.5 480.57,160.12 480.81,161.08 481.06,161.55 481.3,160.29 481.55,159.18 481.79,159.14 482.03,159.09 482.28,159.04 482.52,160.02 482.76,161.01 483.01,160.01 483.25,159.01 483.49,158.97 483.74,158.92 483.98,158.88 484.22,158.83 484.47,158.78 484.71,158.97 484.95,159.16 485.2,159.11 485.44,159.07 485.68,159.02 485.93,158.97 486.17,158.93 486.41,158.88 486.66,158.84 486.9,158.79" fill="none" stroke="#111" stroke-width="1.35" stroke-linejoin="round" />
<rect x="360.5" y="73" width="131" height="114" fill="none" stroke="#857874" stroke-width="0.9" />
<line x1="365.2" y1="187" x2="365.2" y2="190" stroke="#857874" stroke-width="0.9" />
<text class="h" x="365.2" y="195.2" font-size="4.6" text-anchor="middle" dominant-baseline="central" fill="#2a2a2a" color="#2a2a2a" style="stroke-width:0.2px">0</text>
<line x1="389.54" y1="187" x2="389.54" y2="190" stroke="#857874" stroke-width="0.9" />
<text class="h" x="389.54" y="195.2" font-size="4.6" text-anchor="middle" dominant-baseline="central" fill="#2a2a2a" color="#2a2a2a" style="stroke-width:0.2px">100</text>
<line x1="413.88" y1="187" x2="413.88" y2="190" stroke="#857874" stroke-width="0.9" />
<text class="h" x="413.88" y="195.2" font-size="4.6" text-anchor="middle" dominant-baseline="central" fill="#2a2a2a" color="#2a2a2a" style="stroke-width:0.2px">200</text>
<line x1="438.22" y1="187" x2="438.22" y2="190" stroke="#857874" stroke-width="0.9" />
<text class="h" x="438.22" y="195.2" font-size="4.6" text-anchor="middle" dominant-baseline="central" fill="#2a2a2a" color="#2a2a2a" style="stroke-width:0.2px">300</text>
<line x1="462.56" y1="187" x2="462.56" y2="190" stroke="#857874" stroke-width="0.9" />
<text class="h" x="462.56" y="195.2" font-size="4.6" text-anchor="middle" dominant-baseline="central" fill="#2a2a2a" color="#2a2a2a" style="stroke-width:0.2px">400</text>
<line x1="486.9" y1="187" x2="486.9" y2="190" stroke="#857874" stroke-width="0.9" />
<text class="h" x="486.9" y="195.2" font-size="4.6" text-anchor="middle" dominant-baseline="central" fill="#2a2a2a" color="#2a2a2a" style="stroke-width:0.2px">500</text>
<line x1="357.5" y1="173" x2="360.5" y2="173" stroke="#857874" stroke-width="0.9" />
<text class="h" x="352.7" y="173" font-size="4.6" text-anchor="middle" dominant-baseline="central" fill="#2a2a2a" color="#2a2a2a" transform="rotate(-90 352.7 173)" style="stroke-width:0.2px">0.2</text>
<line x1="357.5" y1="154.5" x2="360.5" y2="154.5" stroke="#857874" stroke-width="0.9" />
<text class="h" x="352.7" y="154.5" font-size="4.6" text-anchor="middle" dominant-baseline="central" fill="#2a2a2a" color="#2a2a2a" transform="rotate(-90 352.7 154.5)" style="stroke-width:0.2px">0.3</text>
<line x1="357.5" y1="136" x2="360.5" y2="136" stroke="#857874" stroke-width="0.9" />
<text class="h" x="352.7" y="136" font-size="4.6" text-anchor="middle" dominant-baseline="central" fill="#2a2a2a" color="#2a2a2a" transform="rotate(-90 352.7 136)" style="stroke-width:0.2px">0.4</text>
<line x1="357.5" y1="117.5" x2="360.5" y2="117.5" stroke="#857874" stroke-width="0.9" />
<text class="h" x="352.7" y="117.5" font-size="4.6" text-anchor="middle" dominant-baseline="central" fill="#2a2a2a" color="#2a2a2a" transform="rotate(-90 352.7 117.5)" style="stroke-width:0.2px">0.5</text>
<line x1="357.5" y1="99" x2="360.5" y2="99" stroke="#857874" stroke-width="0.9" />
<text class="h" x="352.7" y="99" font-size="4.6" text-anchor="middle" dominant-baseline="central" fill="#2a2a2a" color="#2a2a2a" transform="rotate(-90 352.7 99)" style="stroke-width:0.2px">0.6</text>
<line x1="357.5" y1="80.5" x2="360.5" y2="80.5" stroke="#857874" stroke-width="0.9" />
<text class="h" x="352.7" y="80.5" font-size="4.6" text-anchor="middle" dominant-baseline="central" fill="#2a2a2a" color="#2a2a2a" transform="rotate(-90 352.7 80.5)" style="stroke-width:0.2px">0.7</text>
<text class="h" x="426" y="63" font-size="5.4" text-anchor="middle" dominant-baseline="central" fill="#222" color="#222" font-weight="bold" >Random forest</text>
<text class="h" x="343.2" y="130" font-size="4.8" text-anchor="middle" dominant-baseline="central" fill="#3a3a3a" color="#3a3a3a" transform="rotate(-90 343.2 130)" style="stroke-width:0.14px">Error</text>
<text class="h" x="426.1" y="206.8" font-size="4.8" text-anchor="middle" dominant-baseline="central" fill="#3a3a3a" color="#3a3a3a" style="stroke-width:0.14px">trees</text>
<rect x="528.4" y="43" width="119.9" height="168.3" fill="#fff"/>
<line x1="552.45" y1="43" x2="552.45" y2="211.3" stroke="#ececec" stroke-width="0.6" />
<line x1="571.4" y1="43" x2="571.4" y2="211.3" stroke="#ececec" stroke-width="0.8" />
<line x1="590.35" y1="43" x2="590.35" y2="211.3" stroke="#ececec" stroke-width="0.6" />
<line x1="609.3" y1="43" x2="609.3" y2="211.3" stroke="#ececec" stroke-width="0.8" />
<line x1="628.25" y1="43" x2="628.25" y2="211.3" stroke="#ececec" stroke-width="0.6" />
<line x1="647.2" y1="43" x2="647.2" y2="211.3" stroke="#ececec" stroke-width="0.8" />
<line x1="528.4" y1="52.8" x2="648.3" y2="52.8" stroke="#ececec" stroke-width="0.8" />
<line x1="528.4" y1="69.34" x2="648.3" y2="69.34" stroke="#ececec" stroke-width="0.8" />
<line x1="528.4" y1="85.88" x2="648.3" y2="85.88" stroke="#ececec" stroke-width="0.8" />
<line x1="528.4" y1="102.42" x2="648.3" y2="102.42" stroke="#ececec" stroke-width="0.8" />
<line x1="528.4" y1="118.96" x2="648.3" y2="118.96" stroke="#ececec" stroke-width="0.8" />
<line x1="528.4" y1="135.5" x2="648.3" y2="135.5" stroke="#ececec" stroke-width="0.8" />
<line x1="528.4" y1="152.04" x2="648.3" y2="152.04" stroke="#ececec" stroke-width="0.8" />
<line x1="528.4" y1="168.58" x2="648.3" y2="168.58" stroke="#ececec" stroke-width="0.8" />
<line x1="528.4" y1="185.12" x2="648.3" y2="185.12" stroke="#ececec" stroke-width="0.8" />
<line x1="528.4" y1="201.66" x2="648.3" y2="201.66" stroke="#ececec" stroke-width="0.8" />
<line x1="533.5" y1="43" x2="533.5" y2="211.3" stroke="#c8c8c8" stroke-width="0.6" stroke-dasharray="1.5,1.2"/>
<line x1="533.5" y1="52.8" x2="642.88" y2="52.8" stroke="#c9c9c9" stroke-width="1.7" />
<line x1="533.5" y1="69.34" x2="621.12" y2="69.34" stroke="#c9c9c9" stroke-width="1.7" />
<line x1="533.5" y1="85.88" x2="600.58" y2="85.88" stroke="#c9c9c9" stroke-width="1.7" />
<line x1="533.5" y1="102.42" x2="596.94" y2="102.42" stroke="#c9c9c9" stroke-width="1.7" />
<line x1="533.5" y1="118.96" x2="587.7" y2="118.96" stroke="#c9c9c9" stroke-width="1.7" />
<line x1="533.5" y1="135.5" x2="585.88" y2="135.5" stroke="#c9c9c9" stroke-width="1.7" />
<line x1="533.5" y1="152.04" x2="585.88" y2="152.04" stroke="#c9c9c9" stroke-width="1.7" />
<line x1="533.5" y1="168.58" x2="579.59" y2="168.58" stroke="#c9c9c9" stroke-width="1.7" />
<line x1="533.5" y1="185.12" x2="576.71" y2="185.12" stroke="#c9c9c9" stroke-width="1.7" />
<line x1="533.5" y1="201.66" x2="564.58" y2="201.66" stroke="#c9c9c9" stroke-width="1.7" />
<circle cx="642.88" cy="52.8" r="3.0" fill="rgb(230, 75, 53)"/>
<circle cx="621.12" cy="69.34" r="3.0" fill="rgb(211, 114, 96)"/>
<circle cx="600.58" cy="85.88" r="3.0" fill="rgb(184, 143, 137)"/>
<circle cx="596.94" cy="102.42" r="3.0" fill="rgb(178, 148, 145)"/>
<circle cx="587.7" cy="118.96" r="3.0" fill="rgb(160, 160, 164)"/>
<circle cx="585.88" cy="135.5" r="3.0" fill="rgb(156, 162, 168)"/>
<circle cx="585.88" cy="152.04" r="3.0" fill="rgb(156, 162, 168)"/>
<circle cx="579.59" cy="168.58" r="3.0" fill="rgb(140, 170, 181)"/>
<circle cx="576.71" cy="185.12" r="3.0" fill="rgb(131, 173, 187)"/>
<circle cx="564.58" cy="201.66" r="3.0" fill="rgb(77, 187, 213)"/>
<rect x="528.4" y="43" width="119.9" height="168.3" fill="none" stroke="#aaa2a0" stroke-width="0.9"/>
<line x1="526.6" y1="52.8" x2="528.4" y2="52.8" stroke="#555" stroke-width="0.6" />
<text class="h" x="525.9" y="52.8" font-size="4.0" text-anchor="end" dominant-baseline="central" fill="#5c5c5c" color="#5c5c5c" style="stroke-width:0.1px">RSAD2</text>
<line x1="526.6" y1="69.34" x2="528.4" y2="69.34" stroke="#555" stroke-width="0.6" />
<text class="h" x="525.9" y="69.34" font-size="4.0" text-anchor="end" dominant-baseline="central" fill="#5c5c5c" color="#5c5c5c" style="stroke-width:0.1px">IFI44L</text>
<line x1="526.6" y1="85.88" x2="528.4" y2="85.88" stroke="#555" stroke-width="0.6" />
<text class="h" x="525.9" y="85.88" font-size="4.0" text-anchor="end" dominant-baseline="central" fill="#5c5c5c" color="#5c5c5c" style="stroke-width:0.1px">IFI44</text>
<line x1="526.6" y1="102.42" x2="528.4" y2="102.42" stroke="#555" stroke-width="0.6" />
<text class="h" x="525.9" y="102.42" font-size="4.0" text-anchor="end" dominant-baseline="central" fill="#5c5c5c" color="#5c5c5c" style="stroke-width:0.1px">MX1</text>
<line x1="526.6" y1="118.96" x2="528.4" y2="118.96" stroke="#555" stroke-width="0.6" />
<text class="h" x="525.9" y="118.96" font-size="4.0" text-anchor="end" dominant-baseline="central" fill="#5c5c5c" color="#5c5c5c" style="stroke-width:0.1px">CTSS</text>
<line x1="526.6" y1="135.5" x2="528.4" y2="135.5" stroke="#555" stroke-width="0.6" />
<text class="h" x="525.9" y="135.5" font-size="4.0" text-anchor="end" dominant-baseline="central" fill="#5c5c5c" color="#5c5c5c" style="stroke-width:0.1px">FCER1A</text>
<line x1="526.6" y1="152.04" x2="528.4" y2="152.04" stroke="#555" stroke-width="0.6" />
<text class="h" x="525.9" y="152.04" font-size="4.0" text-anchor="end" dominant-baseline="central" fill="#5c5c5c" color="#5c5c5c" style="stroke-width:0.1px">OAS3</text>
<line x1="526.6" y1="168.58" x2="528.4" y2="168.58" stroke="#555" stroke-width="0.6" />
<text class="h" x="525.9" y="168.58" font-size="4.0" text-anchor="end" dominant-baseline="central" fill="#5c5c5c" color="#5c5c5c" style="stroke-width:0.1px">EPSTI1</text>
<line x1="526.6" y1="185.12" x2="528.4" y2="185.12" stroke="#555" stroke-width="0.6" />
<text class="h" x="525.9" y="185.12" font-size="4.0" text-anchor="end" dominant-baseline="central" fill="#5c5c5c" color="#5c5c5c" style="stroke-width:0.1px">EIF2AK2</text>
<line x1="526.6" y1="201.66" x2="528.4" y2="201.66" stroke="#555" stroke-width="0.6" />
<text class="h" x="525.9" y="201.66" font-size="4.0" text-anchor="end" dominant-baseline="central" fill="#5c5c5c" color="#5c5c5c" style="stroke-width:0.1px">SERPING1</text>
<line x1="533.5" y1="211.3" x2="533.5" y2="213.1" stroke="#555" stroke-width="0.6" />
<text class="h" x="533.5" y="215.4" font-size="4.2" text-anchor="middle" dominant-baseline="central" fill="#444" color="#444" style="stroke-width:0.16px">0</text>
<line x1="571.4" y1="211.3" x2="571.4" y2="213.1" stroke="#555" stroke-width="0.6" />
<text class="h" x="571.4" y="215.4" font-size="4.2" text-anchor="middle" dominant-baseline="central" fill="#444" color="#444" style="stroke-width:0.16px">5</text>
<line x1="609.3" y1="211.3" x2="609.3" y2="213.1" stroke="#555" stroke-width="0.6" />
<text class="h" x="609.3" y="215.4" font-size="4.2" text-anchor="middle" dominant-baseline="central" fill="#444" color="#444" style="stroke-width:0.16px">10</text>
<line x1="647.2" y1="211.3" x2="647.2" y2="213.1" stroke="#555" stroke-width="0.6" />
<text class="h" x="647.2" y="215.4" font-size="4.2" text-anchor="middle" dominant-baseline="central" fill="#444" color="#444" style="stroke-width:0.16px">15</text>
<text class="h" x="588" y="220.6" font-size="4.6" text-anchor="middle" dominant-baseline="central" fill="#222" color="#222" >importance</text>
<text class="h" x="504.4" y="127.1" font-size="4.8" text-anchor="middle" dominant-baseline="central" fill="#222" color="#222" transform="rotate(-90 504.4 127.1)" >Gene</text>
<defs><linearGradient id="lg" x1="0" y1="0" x2="0" y2="1"><stop offset="0.0" stop-color="rgb(229, 78, 56)"/><stop offset="0.1" stop-color="rgb(223, 93, 71)"/><stop offset="0.2" stop-color="rgb(216, 107, 86)"/><stop offset="0.3" stop-color="rgb(208, 119, 102)"/><stop offset="0.4" stop-color="rgb(198, 130, 117)"/><stop offset="0.5" stop-color="rgb(187, 140, 133)"/><stop offset="0.6" stop-color="rgb(175, 150, 149)"/><stop offset="0.7" stop-color="rgb(159, 160, 165)"/><stop offset="0.8" stop-color="rgb(140, 169, 181)"/><stop offset="0.9" stop-color="rgb(114, 179, 197)"/><stop offset="1.0" stop-color="rgb(77, 187, 213)"/></linearGradient></defs>
<rect x="655.4" y="112.4" width="7.5" height="36.5" fill="url(#lg)"/>
<text class="h" x="655" y="109.2" font-size="4.75" text-anchor="start" dominant-baseline="central" fill="#222" color="#222" >importance</text>
<text class="h" x="665.8" y="113.3" font-size="4.2" text-anchor="start" dominant-baseline="central" fill="#333" color="#333" style="stroke-width:0.16px">14</text>
<line x1="655.4" y1="113.3" x2="656.8" y2="113.3" stroke="#fff" stroke-width="0.5" />
<line x1="661.5" y1="113.3" x2="662.9" y2="113.3" stroke="#fff" stroke-width="0.5" />
<text class="h" x="665.8" y="120.5" font-size="4.2" text-anchor="start" dominant-baseline="central" fill="#333" color="#333" style="stroke-width:0.16px">12</text>
<line x1="655.4" y1="120.5" x2="656.8" y2="120.5" stroke="#fff" stroke-width="0.5" />
<line x1="661.5" y1="120.5" x2="662.9" y2="120.5" stroke="#fff" stroke-width="0.5" />
<text class="h" x="665.8" y="127.7" font-size="4.2" text-anchor="start" dominant-baseline="central" fill="#333" color="#333" style="stroke-width:0.16px">10</text>
<line x1="655.4" y1="127.7" x2="656.8" y2="127.7" stroke="#fff" stroke-width="0.5" />
<line x1="661.5" y1="127.7" x2="662.9" y2="127.7" stroke="#fff" stroke-width="0.5" />
<text class="h" x="665.8" y="135.1" font-size="4.2" text-anchor="start" dominant-baseline="central" fill="#333" color="#333" style="stroke-width:0.16px">8</text>
<line x1="655.4" y1="135.1" x2="656.8" y2="135.1" stroke="#fff" stroke-width="0.5" />
<line x1="661.5" y1="135.1" x2="662.9" y2="135.1" stroke="#fff" stroke-width="0.5" />
<text class="h" x="665.8" y="141.9" font-size="4.2" text-anchor="start" dominant-baseline="central" fill="#333" color="#333" style="stroke-width:0.16px">6</text>
<line x1="655.4" y1="141.9" x2="656.8" y2="141.9" stroke="#fff" stroke-width="0.5" />
<line x1="661.5" y1="141.9" x2="662.9" y2="141.9" stroke="#fff" stroke-width="0.5" />
<polyline points="61.55,280.62 73.7,307.76 85.85,272.17 98,272.17 110.15,363.56 122.3,309.27 134.45,271.57 146.6,325.25 158.75,327.06 170.9,326.16" fill="none" stroke="#3d83c2" stroke-width="1.5" stroke-linejoin="round" stroke-linejoin="miter"/>
<rect x="57.4" y="268.5" width="117.7" height="98.9" fill="none" stroke="#555" stroke-width="0.9" />
<line x1="73.7" y1="367.4" x2="73.7" y2="370.8" stroke="#555" stroke-width="0.9" />
<text class="h" x="73.7" y="377.9" font-size="5.4" text-anchor="middle" dominant-baseline="central" fill="#222" color="#222" >2</text>
<line x1="98" y1="367.4" x2="98" y2="370.8" stroke="#555" stroke-width="0.9" />
<text class="h" x="98" y="377.9" font-size="5.4" text-anchor="middle" dominant-baseline="central" fill="#222" color="#222" >4</text>
<line x1="122.3" y1="367.4" x2="122.3" y2="370.8" stroke="#555" stroke-width="0.9" />
<text class="h" x="122.3" y="377.9" font-size="5.4" text-anchor="middle" dominant-baseline="central" fill="#222" color="#222" >6</text>
<line x1="146.6" y1="367.4" x2="146.6" y2="370.8" stroke="#555" stroke-width="0.9" />
<text class="h" x="146.6" y="377.9" font-size="5.4" text-anchor="middle" dominant-baseline="central" fill="#222" color="#222" >8</text>
<line x1="170.9" y1="367.4" x2="170.9" y2="370.8" stroke="#555" stroke-width="0.9" />
<text class="h" x="170.9" y="377.9" font-size="5.4" text-anchor="middle" dominant-baseline="central" fill="#222" color="#222" >10</text>
<line x1="54" y1="353" x2="57.4" y2="353" stroke="#555" stroke-width="0.9" />
<text class="h" x="49.4" y="353" font-size="5.2" text-anchor="middle" dominant-baseline="central" fill="#222" color="#222" transform="rotate(-90 49.4 353)" >0.72</text>
<line x1="54" y1="337.92" x2="57.4" y2="337.92" stroke="#555" stroke-width="0.9" />
<text class="h" x="49.4" y="337.92" font-size="5.2" text-anchor="middle" dominant-baseline="central" fill="#222" color="#222" transform="rotate(-90 49.4 337.92)" >0.73</text>
<line x1="54" y1="322.84" x2="57.4" y2="322.84" stroke="#555" stroke-width="0.9" />
<text class="h" x="49.4" y="322.84" font-size="5.2" text-anchor="middle" dominant-baseline="central" fill="#222" color="#222" transform="rotate(-90 49.4 322.84)" >0.74</text>
<line x1="54" y1="307.76" x2="57.4" y2="307.76" stroke="#555" stroke-width="0.9" />
<text class="h" x="49.4" y="307.76" font-size="5.2" text-anchor="middle" dominant-baseline="central" fill="#222" color="#222" transform="rotate(-90 49.4 307.76)" >0.75</text>
<line x1="54" y1="292.68" x2="57.4" y2="292.68" stroke="#555" stroke-width="0.9" />
<text class="h" x="49.4" y="292.68" font-size="5.2" text-anchor="middle" dominant-baseline="central" fill="#222" color="#222" transform="rotate(-90 49.4 292.68)" >0.76</text>
<line x1="54" y1="277.6" x2="57.4" y2="277.6" stroke="#555" stroke-width="0.9" />
<text class="h" x="49.4" y="277.6" font-size="5.2" text-anchor="middle" dominant-baseline="central" fill="#222" color="#222" transform="rotate(-90 49.4 277.6)" >0.77</text>
<text class="h" x="37.4" y="317.4" font-size="5.3" text-anchor="middle" dominant-baseline="central" fill="#222" color="#222" transform="rotate(-90 37.4 317.4)" >5 x CV Accuracy</text>
<text class="h" x="116.5" y="389.8" font-size="5.25" text-anchor="middle" dominant-baseline="central" fill="#222" color="#222" >Number of Features</text>
<circle cx="134.45" cy="271.57" r="1.1" fill="#e05a3c"/>
<text class="h" x="131.2" y="272.2" font-size="6.1" text-anchor="end" dominant-baseline="central" fill="#e4765c" color="#e4765c" style="stroke-width:0.12px">7 – 0.774</text>
<polyline points="211.9,355.36 224.04,328 236.18,363.87 248.32,363.87 260.46,271.76 272.6,326.48 284.74,364.48 296.88,310.37 309.02,308.54 321.16,309.46" fill="none" stroke="#3d83c2" stroke-width="1.5" stroke-linejoin="round" stroke-linejoin="miter"/>
<rect x="207.5" y="268.3" width="117.2" height="99.1" fill="none" stroke="#555" stroke-width="0.9" />
<line x1="224.04" y1="367.4" x2="224.04" y2="370.8" stroke="#555" stroke-width="0.9" />
<text class="h" x="224.04" y="377.9" font-size="5.4" text-anchor="middle" dominant-baseline="central" fill="#222" color="#222" >2</text>
<line x1="248.32" y1="367.4" x2="248.32" y2="370.8" stroke="#555" stroke-width="0.9" />
<text class="h" x="248.32" y="377.9" font-size="5.4" text-anchor="middle" dominant-baseline="central" fill="#222" color="#222" >4</text>
<line x1="272.6" y1="367.4" x2="272.6" y2="370.8" stroke="#555" stroke-width="0.9" />
<text class="h" x="272.6" y="377.9" font-size="5.4" text-anchor="middle" dominant-baseline="central" fill="#222" color="#222" >6</text>
<line x1="296.88" y1="367.4" x2="296.88" y2="370.8" stroke="#555" stroke-width="0.9" />
<text class="h" x="296.88" y="377.9" font-size="5.4" text-anchor="middle" dominant-baseline="central" fill="#222" color="#222" >8</text>
<line x1="321.16" y1="367.4" x2="321.16" y2="370.8" stroke="#555" stroke-width="0.9" />
<text class="h" x="321.16" y="377.9" font-size="5.4" text-anchor="middle" dominant-baseline="central" fill="#222" color="#222" >10</text>
<line x1="204.1" y1="358.4" x2="207.5" y2="358.4" stroke="#555" stroke-width="0.9" />
<text class="h" x="199.6" y="358.4" font-size="5.2" text-anchor="middle" dominant-baseline="central" fill="#222" color="#222" transform="rotate(-90 199.6 358.4)" >0.23</text>
<line x1="204.1" y1="343.2" x2="207.5" y2="343.2" stroke="#555" stroke-width="0.9" />
<text class="h" x="199.6" y="343.2" font-size="5.2" text-anchor="middle" dominant-baseline="central" fill="#222" color="#222" transform="rotate(-90 199.6 343.2)" >0.24</text>
<line x1="204.1" y1="328" x2="207.5" y2="328" stroke="#555" stroke-width="0.9" />
<text class="h" x="199.6" y="328" font-size="5.2" text-anchor="middle" dominant-baseline="central" fill="#222" color="#222" transform="rotate(-90 199.6 328)" >0.25</text>
<line x1="204.1" y1="312.8" x2="207.5" y2="312.8" stroke="#555" stroke-width="0.9" />
<text class="h" x="199.6" y="312.8" font-size="5.2" text-anchor="middle" dominant-baseline="central" fill="#222" color="#222" transform="rotate(-90 199.6 312.8)" >0.26</text>
<line x1="204.1" y1="297.6" x2="207.5" y2="297.6" stroke="#555" stroke-width="0.9" />
<text class="h" x="199.6" y="297.6" font-size="5.2" text-anchor="middle" dominant-baseline="central" fill="#222" color="#222" transform="rotate(-90 199.6 297.6)" >0.27</text>
<line x1="204.1" y1="282.4" x2="207.5" y2="282.4" stroke="#555" stroke-width="0.9" />
<text class="h" x="199.6" y="282.4" font-size="5.2" text-anchor="middle" dominant-baseline="central" fill="#222" color="#222" transform="rotate(-90 199.6 282.4)" >0.28</text>
<text class="h" x="187.2" y="318.4" font-size="5.3" text-anchor="middle" dominant-baseline="central" fill="#222" color="#222" transform="rotate(-90 187.2 318.4)" >5 x CV Error</text>
<text class="h" x="266.3" y="389.8" font-size="5.25" text-anchor="middle" dominant-baseline="central" fill="#222" color="#222" >Number of Features</text>
<circle cx="284.74" cy="364.48" r="1.1" fill="#e05a3c"/>
<text class="h" x="281.9" y="364.3" font-size="6.1" text-anchor="end" dominant-baseline="central" fill="#e4765c" color="#e4765c" style="stroke-width:0.12px">7 – 0.226</text>
<defs><clipPath id="cL"><circle cx="504.6" cy="290.1" r="38.8"/></clipPath><clipPath id="cR"><circle cx="485.2" cy="329.6" r="38.8"/></clipPath><clipPath id="cS"><circle cx="523.9" cy="329.6" r="38.8"/></clipPath></defs>
<circle cx="504.6" cy="290.1" r="38.8" fill="rgb(212, 235, 242)" />
<circle cx="485.2" cy="329.6" r="38.8" fill="rgb(248, 206, 190)" />
<circle cx="523.9" cy="329.6" r="38.8" fill="rgb(234, 233, 245)" />
<circle cx="485.2" cy="329.6" r="38.8" fill="rgb(224, 197, 184)" clip-path="url(#cL)"/>
<circle cx="523.9" cy="329.6" r="38.8" fill="rgb(206, 223, 235)" clip-path="url(#cL)"/>
<circle cx="523.9" cy="329.6" r="38.8" fill="rgb(231, 201, 200)" clip-path="url(#cR)"/>
<g clip-path="url(#cL)"><circle cx="523.9" cy="329.6" r="38.8" fill="rgb(214, 194, 196)" clip-path="url(#cR)"/></g>
<text class="h" x="504.6" y="275" font-size="7.1" text-anchor="middle" dominant-baseline="central" fill="#333" color="#333" >0</text>
<text class="h" x="482.8" y="303.4" font-size="7.1" text-anchor="middle" dominant-baseline="central" fill="#333" color="#333" >0</text>
<text class="h" x="526.2" y="303.4" font-size="7.1" text-anchor="middle" dominant-baseline="central" fill="#333" color="#333" >0</text>
<text class="h" x="504.3" y="315.4" font-size="7.1" text-anchor="middle" dominant-baseline="central" fill="#333" color="#333" >2</text>
<text class="h" x="469.3" y="337.6" font-size="7.1" text-anchor="middle" dominant-baseline="central" fill="#333" color="#333" >0</text>
<text class="h" x="504.3" y="341.6" font-size="7.1" text-anchor="middle" dominant-baseline="central" fill="#333" color="#333" >3</text>
<text class="h" x="539.3" y="337.6" font-size="7.1" text-anchor="middle" dominant-baseline="central" fill="#333" color="#333" >2</text>
<text class="h" x="504.5" y="244.2" font-size="7.3" text-anchor="middle" dominant-baseline="central" fill="#6cc3d6" color="#6cc3d6" style="stroke:none">LASSO</text>
<text class="h" x="453.1" y="373.2" font-size="7.3" text-anchor="middle" dominant-baseline="central" fill="#e0704c" color="#e0704c" style="stroke:none">RF</text>
<text class="h" x="555.6" y="373.2" font-size="7.5" text-anchor="middle" dominant-baseline="central" fill="#b9b7da" color="#b9b7da" style="stroke:none">SVM-RFE</text>
</svg></body></html>
